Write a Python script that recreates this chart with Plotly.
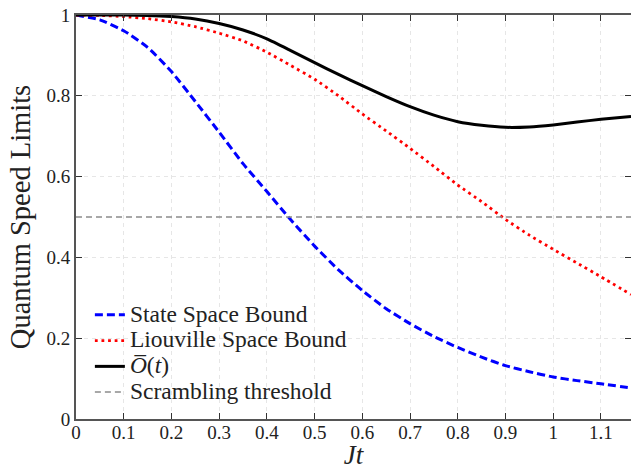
import plotly.graph_objects as go

jt = [0.0, 0.05, 0.1, 0.15, 0.2, 0.25, 0.3, 0.35, 0.4, 0.45, 0.5, 0.55, 0.6,
      0.65, 0.7, 0.75, 0.8, 0.85, 0.9, 0.95, 1.0, 1.05, 1.1, 1.163]

state_bound = [1.0, 0.988, 0.961, 0.92, 0.86, 0.786, 0.71, 0.632, 0.563, 0.493,
               0.428, 0.369, 0.318, 0.273, 0.236, 0.204, 0.177, 0.153, 0.132,
               0.117, 0.104, 0.095, 0.087, 0.077]

liouville_bound = [1.0, 0.999, 0.996, 0.991, 0.983, 0.971, 0.955, 0.936, 0.908,
                   0.875, 0.841, 0.80, 0.755, 0.713, 0.670, 0.625, 0.579, 0.538,
                   0.494, 0.455, 0.42, 0.386, 0.352, 0.308]

otoc = [1.0, 1.0, 1.0, 0.999, 0.996, 0.99, 0.979, 0.963, 0.941, 0.912, 0.882,
        0.853, 0.825, 0.798, 0.773, 0.752, 0.736, 0.727, 0.722, 0.723, 0.728,
        0.735, 0.742, 0.749]

threshold = 0.5

x_ticks = [0, 0.1, 0.2, 0.3, 0.4, 0.5, 0.6, 0.7, 0.8, 0.9, 1.0, 1.1]
x_tick_labels = ["0", "0.1", "0.2", "0.3", "0.4", "0.5", "0.6", "0.7", "0.8", "0.9", "1", "1.1"]
y_ticks = [0, 0.2, 0.4, 0.6, 0.8, 1.0]
y_tick_labels = ["0", "0.2", "0.4", "0.6", "0.8", "1"]

series_names = ["State Space Bound", "Liouville Space Bound",
                "<i>O\u0305</i>(<i>t</i>)", "Scrambling threshold"]

FONT = "Liberation Serif"


def leg(name):
    return "<span style='font-size:23.5px'>" + name + "</span>"


fig = go.Figure()
fig.add_trace(go.Scatter(x=jt, y=state_bound, mode="lines", name=leg(series_names[0]),
                         line=dict(color="#0000ff", width=3, dash="8px,4px", shape="spline", smoothing=0.5)))
fig.add_trace(go.Scatter(x=jt, y=liouville_bound, mode="lines", name=leg(series_names[1]),
                         line=dict(color="#ff0000", width=2.8, dash="2.8px,3.8px", shape="spline", smoothing=0.5)))
fig.add_trace(go.Scatter(x=jt, y=otoc, mode="lines", name=leg(series_names[2]),
                         line=dict(color="#000000", width=3, shape="spline", smoothing=0.5)))
fig.add_trace(go.Scatter(x=[jt[0], jt[-1]], y=[threshold, threshold], mode="lines",
                         name=leg(series_names[3]),
                         line=dict(color="#8c8c8c", width=1.5, dash="6px,4px")))

axis_common = dict(showline=True, linecolor="#555555", linewidth=2, mirror="ticks",
                   ticks="inside", ticklen=6, tickwidth=1.3, tickcolor="#333333",
                   showgrid=True, gridcolor="#e6e6e6", gridwidth=1, griddash="4px,4px",
                   zeroline=False, automargin=False,
                   tickfont=dict(family=FONT, size=19, color="#222222"))

fig.update_xaxes(range=[0, 1.163], tickvals=x_ticks, ticktext=x_tick_labels,
                 ticklabelstandoff=-5,
                 title=dict(text="<i>Jt</i>", font=dict(family=FONT, size=27, color="#222222"), standoff=12),
                 **axis_common)
fig.update_yaxes(range=[0, 1.0], tickvals=y_ticks, ticktext=y_tick_labels,
                 title=dict(text="Quantum Speed Limits", font=dict(family=FONT, size=28.5, color="#222222"), standoff=7),
                 **axis_common)

fig.update_layout(
    width=631, height=470,
    margin=dict(l=76, r=0, t=15, b=51),
    paper_bgcolor="white", plot_bgcolor="white",
    font=dict(family=FONT, color="#222222"),
    legend=dict(x=0.025, y=0.302, xanchor="left", yanchor="top",
                bgcolor="rgba(0,0,0,0)", borderwidth=0,
                font=dict(family=FONT, size=17.5, color="#222222"),
                tracegroupgap=0),
    showlegend=True,
)

fig.write_html("out.html")
